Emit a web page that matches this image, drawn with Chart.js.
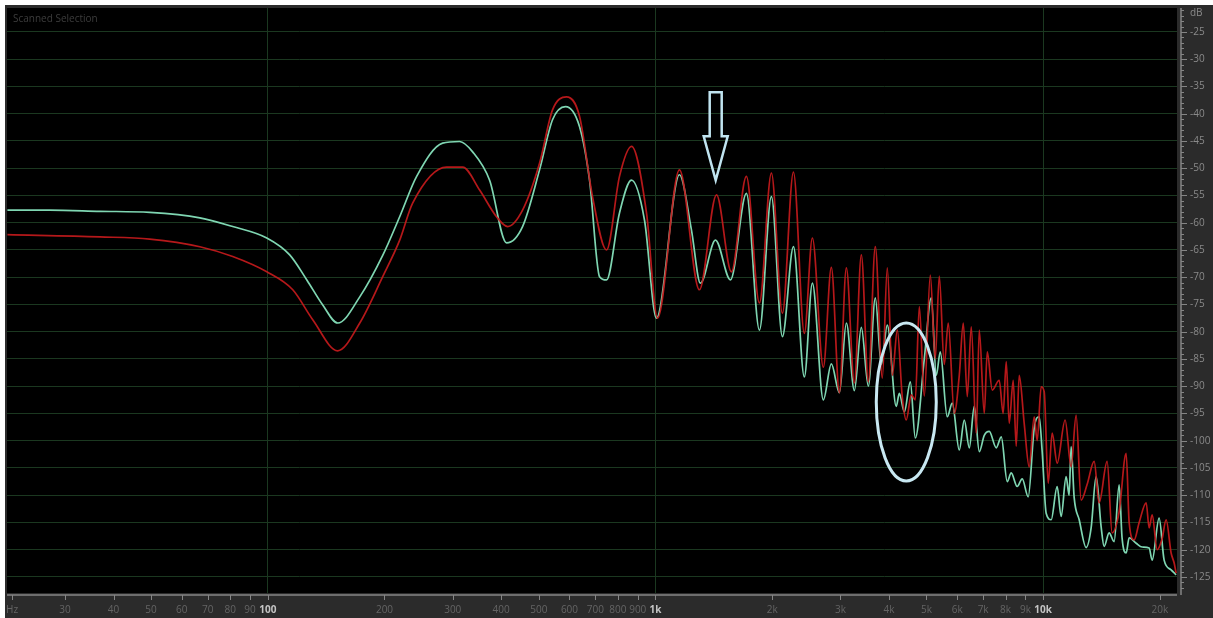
<!DOCTYPE html>
<html>
<head>
<meta charset="utf-8">
<style>
  html, body { margin: 0; padding: 0; background: #fff; overflow: hidden; }
</style>
<script src="https://cdn.jsdelivr.net/npm/chart.js@4.4.1/dist/chart.umd.min.js"></script>
</head>
<body>
<canvas id="spectrum" width="1213" height="618"></canvas>
<script>
const greenHz = [21.3, 27.4, 36.9, 49.6, 66.8, 81.2, 99.4, 113.9, 126.1, 138.6, 151.5, 172.7, 197.9, 218.9, 242.1,
  282.5, 312.5, 337.6, 373.4, 413, 454.1, 502.3, 542.6, 586.1, 637.1, 676, 717.4, 747.8, 807.6, 867.3, 936.7,
  1006, 1153, 1238, 1306, 1428, 1561, 1716, 1854, 1991, 2125, 2269, 2421, 2539, 2710, 2842, 2981, 3107, 3258,
  3396, 3540, 3690, 3824, 3962, 4179, 4255, 4384, 4543, 4679, 4936, 5145, 5300, 5427, 5657, 5828, 6076, 6259,
  6449, 6641, 6842, 7048, 7261, 7568, 7796, 8078, 8270, 8570, 8830, 9149, 9481, 9766, 9941, 10179, 10486,
  10866, 11126, 11459, 11667, 11806, 12023, 12385, 12906, 13295, 13696, 14109, 14362, 14795, 15241, 15703,
  15976, 16370, 16664, 17371, 17995, 18761, 19104, 19909, 20511, 21379, 22025];
const greenDb = [-57.7, -57.7, -57.9, -58.1, -59.1, -60.7, -62.8, -65.9, -70.5, -75.1, -78.4, -73.6, -66, -58.9, -51.5,
  -45.4, -45.1, -47, -52.2, -63.7, -60.7, -50.3, -41.1, -38.7, -42.4, -52.2, -69.9, -70.5, -58.2, -52.2, -59.5,
  -77.5, -51.2, -61.3, -71.1, -63.2, -70.5, -54.6, -79.7, -55.2, -80.9, -64.4, -88.3, -71.1, -92.5, -85.9, -91.2, -78.4, -90.8,
  -79.2, -90, -73.8, -86, -78.8, -93.7, -91.3, -94.7, -89.2, -99.5, -85, -73.8, -88, -83.7, -95.6, -93.1, -101.7, -96.2,
  -101.3, -93.7, -102, -99, -98.3, -101.3, -99.3, -107.5, -105.9, -108.4, -107, -110.3, -97.7, -95.6, -102, -113.3, -114.5,
  -108.4, -113.9, -106.6, -110, -101.1, -110.5, -114.5, -119.6, -116, -106.6, -115.8, -119.4, -116.9, -118.5, -108.1,
  -117.8, -120.6, -117.8, -118.8, -119.5, -119.7, -121.9, -114.2, -121.9, -123.7, -124.6];

const redHz = [21.3, 36.9, 49.6, 66.8, 81.2, 99.4, 116, 130.6, 151.5, 172.7, 197.9, 218.9, 236.4, 289.3, 318.2,
  351.9, 389.1, 415.6, 454.1, 502.3, 542.6, 589.6, 637.1, 688, 747.8, 807.6, 867.3, 948.1, 1012, 1153, 1298,
  1437, 1570, 1716, 1854, 1991, 2125, 2269, 2421, 2539, 2710, 2842, 2981, 3107, 3258, 3396, 3540, 3690, 3847,
  3962, 4082, 4205, 4331, 4435, 4569, 4679, 4792, 4936, 5115, 5268, 5395, 5557, 5691, 5898, 6076, 6222, 6371,
  6524, 6720, 6842, 7048, 7174, 7391, 7702, 7886, 8030, 8174, 8370, 8520, 8673, 8934, 9203, 9481, 9650, 9882,
  10060, 10302, 10548, 10866, 11392, 11806, 12162, 12528, 12986, 13535, 13942, 14621, 15062, 15703, 16370,
  16664, 17166, 17684, 18437, 18761, 19104, 19679, 20265, 20754, 21379, 21762, 22025];
const redDb = [-62.2, -62.6, -63, -64.4, -66.2, -69, -72.3, -77.8, -83.5, -78.4, -69.9, -63.2, -56.4, -49.8, -49.8,
  -54, -58.9, -60.7, -57.7, -49.1, -39.3, -36.9, -40.5, -55.2, -65, -51.5, -46, -58.2, -77.5, -50.3, -72.3,
  -54.9, -69, -51.5, -74.7, -50.9, -76.6, -50.7, -80.3, -62.8, -86.5, -68.2, -91.2, -68.3, -89.4, -65.9, -89.2, -64.4, -88.5,
  -68.3, -88, -79.7, -92, -96.2, -91.6, -92.5, -75.4, -91.8, -69.6, -85, -69.8, -86, -78.4, -95, -88, -78.4, -91.9,
  -79.1, -98.6, -79.7, -95, -83.7, -90.7, -88.9, -95, -85.5, -96.8, -88.9, -101, -88, -96.8, -104.8, -95.6, -100, -90.1,
  -91, -107.8, -98.6, -104.1, -96.2, -104.8, -95.3, -110.9, -108, -103.8, -111.4, -103.8, -116.9, -113, -102.3,
  -115, -118.2, -115, -111.4, -116, -113.6, -120, -118, -114.5, -120.6, -122.4, -124.3];

const tickHz = [21.9, 30, 40, 50, 60, 70, 80, 90, 100, 200, 300, 400, 500, 600, 700, 800, 900, 1000,
  2000, 3000, 4000, 5000, 6000, 7000, 8000, 9000, 10000, 20000];
const tickText = ['Hz', '30', '40', '50', '60', '70', '80', '90', '100', '200', '300', '400', '500', '600', '700', '800', '900', '1k',
  '2k', '3k', '4k', '5k', '6k', '7k', '8k', '9k', '10k', '20k'];
const decadeHz = [100, 1000, 10000];

// where the two markings sit (data coordinates)
const arrowHz = 1430, arrowDb = -52.2;
const ringHz = 4435, ringDb = -92.9;

const gridCol = '#1b3820';
const fontFam = '"Open Sans", "DejaVu Sans", sans-serif';

const noPad = s => { s.paddingLeft = 0; s.paddingRight = 0; s.paddingTop = 0; s.paddingBottom = 0; };

const frame = {
  id: 'frame',
  beforeDraw(chart) {
    const { ctx, chartArea: a, width, height } = chart;
    ctx.save();
    ctx.fillStyle = '#ffffff';
    ctx.fillRect(0, 0, width, height);
    ctx.fillStyle = '#2b2b2b';
    ctx.fillRect(5, 5, width - 5, height - 5);
    ctx.fillStyle = '#000';
    ctx.fillRect(a.left, a.top, a.right - a.left, a.bottom - a.top);
    ctx.fillStyle = '#3d3d3d';
    ctx.font = '10px ' + fontFam;
    ctx.textBaseline = 'top';
    ctx.fillText('Scanned Selection', a.left + 6, a.top + 6);
    ctx.restore();
  },
  afterDraw(chart) {
    const { ctx, chartArea: a, scales } = chart;
    const xs = scales.x, ys = scales.y;
    ctx.save();
    // axes
    ctx.strokeStyle = '#858585';
    ctx.lineWidth = 1.5;
    ctx.beginPath();
    ctx.moveTo(a.left, a.bottom + 2); ctx.lineTo(a.right, a.bottom + 2);
    ctx.moveTo(a.right + 4, a.top); ctx.lineTo(a.right + 4, a.bottom + 2);
    ctx.stroke();
    ctx.lineWidth = 1;
    ctx.beginPath();
    tickHz.forEach(f => {
      const px = Math.round(xs.getPixelForValue(f)) + 0.5;
      ctx.moveTo(px, a.bottom + 2); ctx.lineTo(px, a.bottom + 7);
    });
    for (let d = -21; d >= -127; d--) {
      const py = Math.round(ys.getPixelForValue(d)) + 0.5;
      const len = d % 5 === 0 ? 6 : 3;
      ctx.moveTo(a.right + 4, py); ctx.lineTo(a.right + 4 + len, py);
    }
    ctx.stroke();
    ctx.fillStyle = '#8a8a8a';
    ctx.font = '10px ' + fontFam;
    ctx.textBaseline = 'middle';
    ctx.fillText('dB', a.right + 13, 13);

    // arrow
    const tx = xs.getPixelForValue(arrowHz), ty = ys.getPixelForValue(arrowDb);
    ctx.strokeStyle = 'rgb(192,228,240)';
    ctx.lineWidth = 2.5;
    ctx.lineJoin = 'miter';
    ctx.beginPath();
    ctx.moveTo(tx - 6, ty - 88);
    ctx.lineTo(tx + 6, ty - 88);
    ctx.lineTo(tx + 6, ty - 44);
    ctx.lineTo(tx + 12, ty - 44);
    ctx.lineTo(tx, ty);
    ctx.lineTo(tx - 12, ty - 44);
    ctx.lineTo(tx - 6, ty - 44);
    ctx.closePath();
    ctx.stroke();

    // ring
    const cx = xs.getPixelForValue(ringHz), cy = ys.getPixelForValue(ringDb);
    ctx.strokeStyle = 'rgb(200,232,242)';
    ctx.lineWidth = 3;
    ctx.beginPath();
    ctx.ellipse(cx, cy, 30, 79, 0, 0, Math.PI * 2);
    ctx.stroke();
    ctx.restore();
  }
};

const toPoints = (hz, db) => hz.map((f, i) => ({ x: f, y: db[i] }));

new Chart(document.getElementById('spectrum').getContext('2d'), {
  type: 'line',
  data: {
    datasets: [
      { label: 'B', data: toPoints(redHz, redDb), borderColor: 'rgba(196,26,28,0.92)', borderWidth: 1.7,
        pointRadius: 0, cubicInterpolationMode: 'monotone' },
      { label: 'A', data: toPoints(greenHz, greenDb), borderColor: '#7fd6b2', borderWidth: 1.7,
        pointRadius: 0, cubicInterpolationMode: 'monotone' }
    ]
  },
  options: {
    responsive: false,
    animation: false,
    devicePixelRatio: 1,
    layout: { padding: { left: 7, top: 8, right: 0, bottom: 0 } },
    plugins: { legend: { display: false }, tooltip: { enabled: false } },
    scales: {
      x: {
        type: 'logarithmic',
        min: 21.25,
        max: 22140,
        afterBuildTicks: s => { s.ticks = tickHz.map(v => ({ value: v })); },
        afterFit: s => { s.height = 25; noPad(s); },
        border: { display: false },
        grid: {
          drawTicks: false,
          color: c => (c.tick && decadeHz.includes(c.tick.value)) ? gridCol : 'rgba(0,0,0,0)'
        },
        ticks: {
          autoSkip: false,
          maxRotation: 0,
          padding: 11,
          callback: (v, i) => tickText[i],
          color: c => decadeHz.includes(c.tick.value) ? '#c4c4c4' : '#646464',
          font: c => ({ family: fontFam, size: 10, weight: decadeHz.includes(c.tick.value) ? 'bold' : 'normal' })
        }
      },
      y: {
        position: 'right',
        min: -127.94,
        max: -20.6,
        afterBuildTicks: s => {
          const t = [];
          for (let v = -127; v <= -21; v++) t.push({ value: v });
          s.ticks = t;
        },
        afterFit: s => { s.width = 36; noPad(s); },
        border: { display: false },
        grid: {
          drawTicks: false,
          color: c => (c.tick && c.tick.value % 5 === 0) ? gridCol : 'rgba(0,0,0,0)'
        },
        ticks: {
          autoSkip: false,
          padding: 13,
          callback: v => (v % 5 === 0 && v <= -25 && v >= -125) ? String(v) : '',
          color: '#8a8a8a',
          font: { family: fontFam, size: 10 }
        }
      }
    }
  },
  plugins: [frame]
});
</script>
</body>
</html>
